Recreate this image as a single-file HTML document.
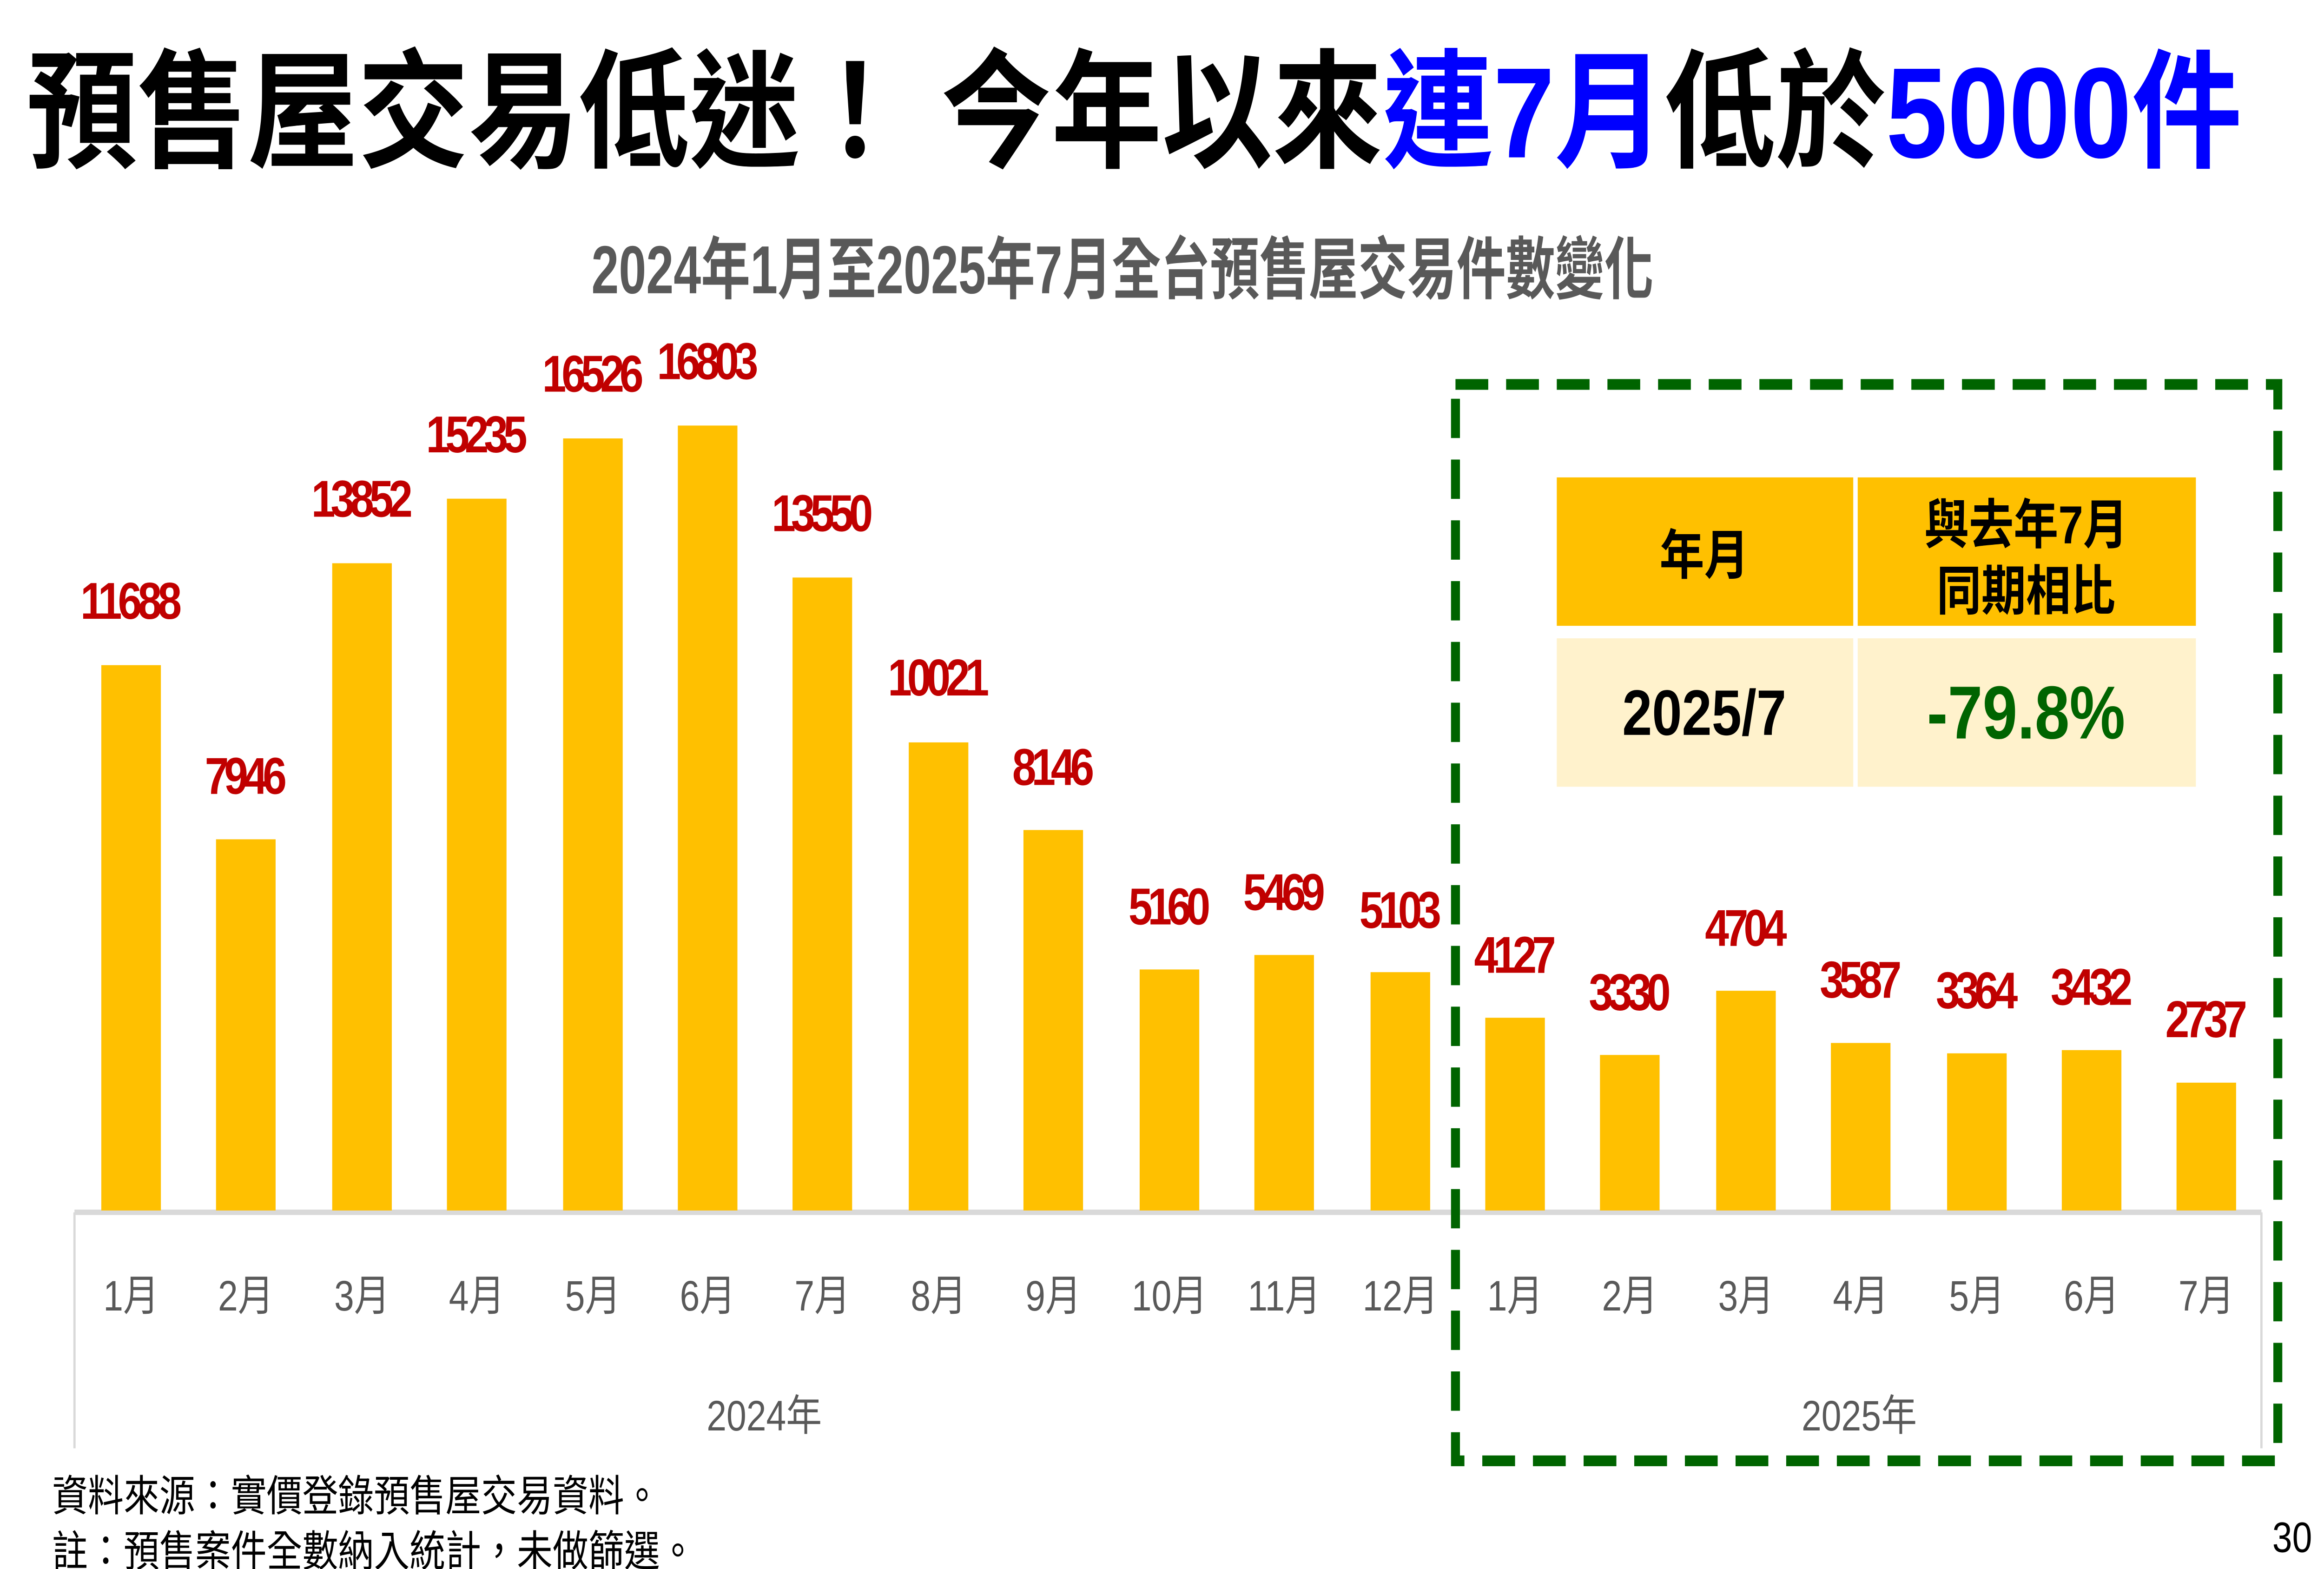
<!DOCTYPE html>
<html><head><meta charset="utf-8"><style>
html,body{margin:0;padding:0;background:#fff;overflow:hidden;width:100vw;height:100vh;}
svg{display:block;width:100vw;height:100vh;}
</style></head><body>
<svg xmlns="http://www.w3.org/2000/svg" viewBox="0 0 1560 877.5" preserveAspectRatio="none">
<rect width="1560" height="877.5" fill="#fff"/>
<g font-family="'Liberation Sans','Noto Sans CJK TC',sans-serif" font-weight="bold">
<text x="18" y="88" font-size="72" fill="#000" textLength="1487" lengthAdjust="spacingAndGlyphs">預售屋交易低迷！ 今年以來<tspan fill="#0000ff">連7月</tspan>低於<tspan fill="#0000ff">5000件</tspan></text>
<text x="397" y="164" font-size="38" fill="#595959" textLength="713" lengthAdjust="spacingAndGlyphs">2024年1月至2025年7月全台預售屋交易件數變化</text>
</g>
<line x1="50" y1="678" x2="1518" y2="678" stroke="#d9d9d9" stroke-width="3"/>
<line x1="50" y1="678" x2="50" y2="810" stroke="#d9d9d9" stroke-width="1.5"/>
<line x1="1518" y1="678" x2="1518" y2="810" stroke="#d9d9d9" stroke-width="1.5"/>
<g fill="#ffc000">
<rect x="68" y="372" width="40" height="305"/>
<rect x="145" y="469.4" width="40" height="207.6"/>
<rect x="223" y="315" width="40" height="362"/>
<rect x="300" y="278.9" width="40" height="398.1"/>
<rect x="378" y="245.2" width="40" height="431.8"/>
<rect x="455" y="238" width="40" height="439"/>
<rect x="532" y="323" width="40" height="354"/>
<rect x="610" y="415.2" width="40" height="261.8"/>
<rect x="687" y="464.2" width="40" height="212.8"/>
<rect x="765" y="542.2" width="40" height="134.8"/>
<rect x="842" y="534.1" width="40" height="142.9"/>
<rect x="920" y="543.7" width="40" height="133.3"/>
<rect x="997" y="569.2" width="40" height="107.8"/>
<rect x="1074" y="590" width="40" height="87"/>
<rect x="1152" y="554.1" width="40" height="122.9"/>
<rect x="1229" y="583.3" width="40" height="93.7"/>
<rect x="1307" y="589.1" width="40" height="87.9"/>
<rect x="1384" y="587.3" width="40" height="89.7"/>
<rect x="1461" y="605.5" width="40" height="71.5"/>
</g>
<g font-family="'Liberation Sans',sans-serif" font-weight="bold" font-size="29" fill="#c00000" text-anchor="middle" lengthAdjust="spacingAndGlyphs">
<text x="88" y="346" textLength="68">11688</text>
<text x="165" y="444" textLength="55">7946</text>
<text x="243" y="289" textLength="68">13852</text>
<text x="320" y="253" textLength="68">15235</text>
<text x="398" y="219" textLength="68">16526</text>
<text x="475" y="212" textLength="68">16803</text>
<text x="552" y="297" textLength="68">13550</text>
<text x="630" y="389" textLength="68">10021</text>
<text x="707" y="439" textLength="55">8146</text>
<text x="785" y="517" textLength="55">5160</text>
<text x="862" y="509" textLength="55">5469</text>
<text x="940" y="519" textLength="55">5103</text>
<text x="1017" y="544" textLength="55">4127</text>
<text x="1094" y="565" textLength="55">3330</text>
<text x="1172" y="529" textLength="55">4704</text>
<text x="1249" y="558" textLength="55">3587</text>
<text x="1327" y="564" textLength="55">3364</text>
<text x="1404" y="562" textLength="55">3432</text>
<text x="1481" y="580" textLength="55">2737</text>
</g>
<g font-family="'Liberation Sans','Noto Sans CJK TC',sans-serif" font-size="24" fill="#595959" text-anchor="middle">
<text x="88" y="733">1月</text><text x="165" y="733">2月</text><text x="243" y="733">3月</text>
<text x="320" y="733">4月</text><text x="398" y="733">5月</text><text x="475" y="733">6月</text>
<text x="552" y="733">7月</text><text x="630" y="733">8月</text><text x="707" y="733">9月</text>
<text x="785" y="733">10月</text><text x="862" y="733">11月</text><text x="940" y="733">12月</text>
<text x="1017" y="733">1月</text><text x="1094" y="733">2月</text><text x="1172" y="733">3月</text>
<text x="1249" y="733">4月</text><text x="1327" y="733">5月</text><text x="1404" y="733">6月</text>
<text x="1481" y="733">7月</text>
<text x="513" y="800">2024年</text>
<text x="1248" y="800">2025年</text>
</g>
<rect x="977" y="215" width="552" height="602" fill="none" stroke="#006400" stroke-width="6" stroke-dasharray="22,12"/>
<rect x="1045" y="267" width="199" height="83" fill="#ffc000"/>
<rect x="1247" y="267" width="227" height="83" fill="#ffc000"/>
<rect x="1045" y="357" width="199" height="83" fill="#fff2cc"/>
<rect x="1247" y="357" width="227" height="83" fill="#fff2cc"/>
<g font-family="'Liberation Sans','Noto Sans CJK TC',sans-serif" font-weight="bold" text-anchor="middle">
<text x="1144" y="321" font-size="30" fill="#000">年月</text>
<text x="1360" y="304" font-size="30" fill="#000">與去年7月</text>
<text x="1360" y="341" font-size="30" fill="#000">同期相比</text>
<text x="1144" y="411" font-size="36" fill="#000">2025/7</text>
<text x="1360" y="413" font-size="42" fill="#006400">-79.8%</text>
</g>
<g font-family="'Liberation Sans','Noto Sans CJK TC',sans-serif" font-size="24" fill="#000">
<text x="35" y="845">資料來源：實價登錄預售屋交易資料。</text>
<text x="35" y="876">註：預售案件全數納入統計，未做篩選。</text>
<text x="1552" y="868" text-anchor="end">30</text>
</g>
</svg>
</body></html>
